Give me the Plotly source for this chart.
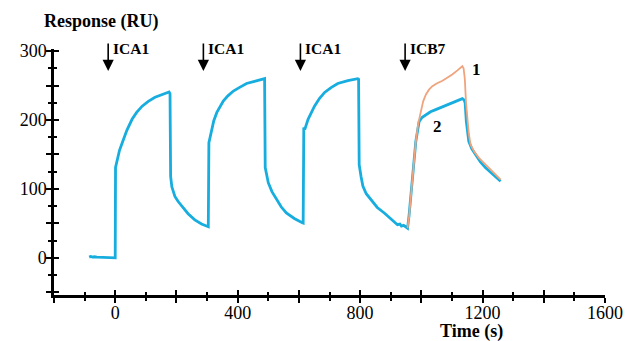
import plotly.graph_objects as go

# ---- data ----
blue_time = [-85, -80, -74, -68, -60, -40, -20, 0, 1, 6.5, 14, 23, 38, 55, 70, 88, 108, 130, 152, 176, 179,
             181, 185, 195, 205, 218, 238, 260, 282, 304,
             306, 310, 315, 322, 332, 342, 353, 368, 386, 405, 429, 455, 483, 488,
             490, 494, 500, 512, 527, 542, 559, 585, 611,
             614, 616, 619, 630, 640, 651, 667, 684, 705, 727, 760, 792, 795,
             797, 803, 809, 820, 836, 856, 879, 900, 922, 930, 935, 942, 948, 955,
             960, 970, 982, 988, 993, 1003, 1015, 1030, 1047, 1068, 1090, 1112, 1134, 1140,
             1143, 1147, 1155, 1165, 1177, 1193, 1210, 1235, 1259]
blue_resp = [1, 2, 1, 1.5, 1, 1, 0.5, 0, 131, 143, 156, 167, 185, 201, 211, 220, 227, 233, 237, 240.6, 238,
             118, 103, 89, 82, 75, 64, 55, 49, 45,
             167, 175, 186, 199, 211, 220, 227.6, 235, 242, 247, 253, 256, 259, 260,
             131, 120, 109, 96, 84, 74, 65, 57, 51,
             50.5, 189, 186, 201, 211, 220, 231, 240, 247, 253, 257, 260, 259,
             135, 118, 104, 93, 84, 73, 65, 56, 48, 49, 46, 47, 45, 43,
             62, 110, 169, 185, 198, 204, 208, 212, 215, 219, 223, 227, 231, 229,
             225, 198, 169, 158, 150, 139, 130.5, 120, 111]

icb7_time = [955, 960, 970, 982, 990, 998, 1006, 1015, 1025, 1036, 1050, 1069, 1085, 1101, 1118, 1134,
             1138, 1142, 1146, 1150, 1155, 1161, 1173, 1188, 1210, 1232, 1259]
icb7_resp = [43, 60, 110, 169, 195, 213, 227, 237, 244, 249, 253, 257, 261, 266, 272, 278,
             275, 260, 225, 198, 180, 164, 154, 145, 135, 126, 113.5]

injection_times = [-23, 288, 605, 947]
injection_labels = ["ICA1", "ICA1", "ICA1", "ICB7"]

x_tickvals = [-200, 0, 200, 400, 600, 800, 1000, 1200, 1400, 1600]
x_ticktext = ["", "0", "", "400", "", "800", "", "1200", "", "1600"]
y_tickvals = [-50, 0, 50, 100, 150, 200, 250, 300]
y_ticktext = ["", "0", "", "100", "", "200", "", "300"]

curve_labels = [("1", 1180, 273), ("2", 1054, 190)]

X_RANGE = [-200, 1600]
Y_RANGE = [-54, 303]

serif = "Liberation Serif"

fig = go.Figure()
fig.add_trace(go.Scatter(x=blue_time, y=blue_resp, mode="lines",
                         line=dict(color="#17ADDF", width=2.8), showlegend=False))
fig.add_trace(go.Scatter(x=icb7_time, y=icb7_resp, mode="lines",
                         line=dict(color="#EFA47E", width=1.8), showlegend=False))

axis_common = dict(showgrid=False, zeroline=False, showline=True, linecolor="black",
                   linewidth=2.5, tickcolor="black", tickwidth=1.8,
                   tickfont=dict(family=serif, size=18, color="black"))

fig.update_layout(
    width=633, height=341,
    margin=dict(l=43, r=36, t=41, b=54),
    plot_bgcolor="white", paper_bgcolor="white",
    xaxis=dict(range=X_RANGE, tickmode="array", tickvals=x_tickvals, ticktext=x_ticktext,
               ticks="outside", ticklen=5, ticklabelstandoff=-5,
               minor=dict(ticks="outside", ticklen=3, dtick=100, tickcolor="black", tickwidth=1.5),
               **axis_common),
    yaxis=dict(range=Y_RANGE, tickmode="array", tickvals=y_tickvals, ticktext=y_ticktext,
               ticks="outside", ticklen=5, ticklabelstandoff=-4,
               minor=dict(ticks="outside", ticklen=3, dtick=25, tickcolor="black", tickwidth=1.5),
               **axis_common),
    xaxis2=dict(range=X_RANGE, overlaying="x", side="bottom", anchor="y", showticklabels=False,
                showgrid=False, zeroline=False, showline=False, tickmode="array", tickvals=x_tickvals,
                ticks="inside", ticklen=5, tickcolor="black", tickwidth=1.8,
                minor=dict(ticks="inside", ticklen=3, dtick=100, tickcolor="black", tickwidth=1.5)),
    yaxis2=dict(range=Y_RANGE, overlaying="y", side="left", anchor="x", showticklabels=False,
                showgrid=False, zeroline=False, showline=False, tickmode="array", tickvals=y_tickvals,
                ticks="inside", ticklen=5, tickcolor="black", tickwidth=1.8,
                minor=dict(ticks="inside", ticklen=3, dtick=25, tickcolor="black", tickwidth=1.5)),
)
# invisible trace to activate the overlay axes (tick crossing)
fig.add_trace(go.Scatter(x=[X_RANGE[0]], y=[Y_RANGE[0]], xaxis="x2", yaxis="y2", mode="markers",
                         marker=dict(opacity=0), hoverinfo="skip", showlegend=False))

for t, lab in zip(injection_times, injection_labels):
    fig.add_annotation(x=t, y=271, xref="x", yref="y", ax=0, ay=-29, showarrow=True,
                       arrowhead=2, arrowsize=1.4, arrowwidth=1.6, arrowcolor="black", text="")
    fig.add_annotation(x=t, y=1.004, xref="x", yref="paper", xshift=3, xanchor="left", yanchor="middle",
                       showarrow=False, text="<b>%s</b>" % lab,
                       font=dict(family=serif, size=15.5, color="black"))

for lab, xx, yy in curve_labels:
    fig.add_annotation(x=xx, y=yy, xref="x", yref="y", showarrow=False, text="<b>%s</b>" % lab,
                       font=dict(family=serif, size=17, color="black"))

fig.add_annotation(x=0.0866, y=1.11, xref="paper", yref="paper", showarrow=False,
                   xanchor="center", yanchor="middle",
                   text="<b>Response (RU)</b>", font=dict(family=serif, size=18, color="black"))
fig.add_annotation(x=0.758, y=-0.15, xref="paper", yref="paper", showarrow=False,
                   xanchor="center", yanchor="middle",
                   text="<b>Time (s)</b>", font=dict(family=serif, size=18, color="black"))

fig.write_html("out.html")
